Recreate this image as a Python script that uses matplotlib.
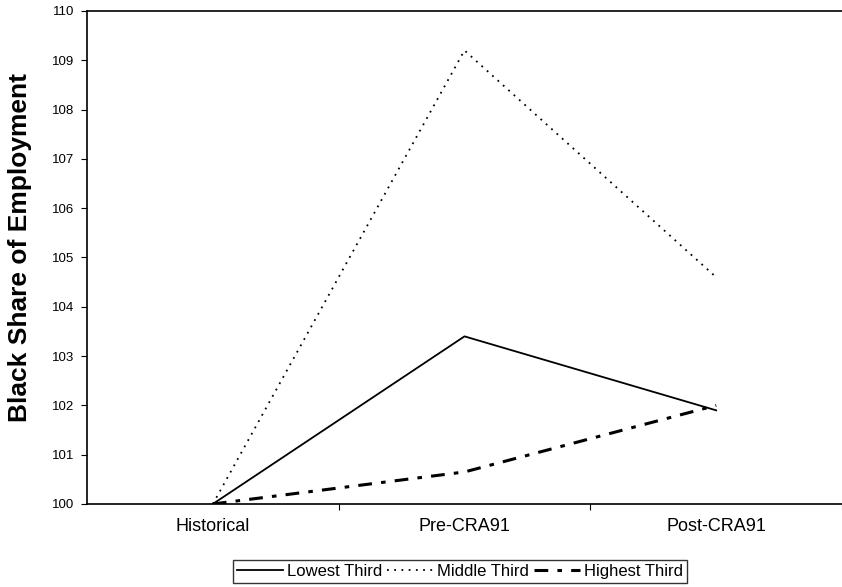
import matplotlib.pyplot as plt

plt.rcParams['font.family'] = ['Liberation Sans', 'DejaVu Sans']

periods = ['Historical', 'Pre-CRA91', 'Post-CRA91']
lowest_third = [100.0, 103.4, 101.9]
middle_third = [100.0, 109.2, 104.6]
highest_third = [100.0, 100.65, 102.0]
y_ticks = [100, 101, 102, 103, 104, 105, 106, 107, 108, 109, 110]

fig = plt.figure(figsize=(8.42, 5.87), dpi=100)
ax = fig.add_axes([0.1033, 0.1414, 0.8967, 0.8399])

x = range(len(periods))
ax.plot(x, lowest_third, color='black', lw=1.3, label='Lowest Third')
ax.plot(x, middle_third, color='black', lw=1.3, linestyle=(0, (1, 3)), label='Middle Third')
ax.plot(x, highest_third, color='black', lw=2.2, linestyle=(0, (4.5, 3, 1.5, 3)), label='Highest Third')

ax.set_xlim(-0.5, 2.5)
ax.set_ylim(100, 110)
ax.set_yticks(y_ticks)
ax.set_yticklabels([str(t) for t in y_ticks], fontsize=9.5)
ax.set_xticks([0.5, 1.5, 2.5])
ax.set_xticklabels([])
ax.set_xticks(list(x), minor=True)
ax.set_xticklabels(periods, minor=True, fontsize=13)
ax.tick_params(axis='x', which='minor', length=0, pad=10)
ax.tick_params(axis='x', which='major', length=4, direction='out')
ax.tick_params(axis='y', length=4, direction='out', pad=5)

ax.spines['right'].set_visible(False)
for s in ['left', 'top', 'bottom']:
    ax.spines[s].set_linewidth(1.2)

ax.set_ylabel('Black Share of Employment', fontsize=19, fontweight='bold')
ax.yaxis.set_label_coords(-0.073, 0.52)

leg = fig.legend(loc='center', bbox_to_anchor=(0.546, 0.026), ncol=3, fontsize=12,
                 frameon=True, fancybox=False, edgecolor='black', handlelength=2.8,
                 handletextpad=0.2, columnspacing=0.3, borderpad=0.25, borderaxespad=0)
leg.get_frame().set_linewidth(1.0)

fig.savefig('out.png', dpi=100)
